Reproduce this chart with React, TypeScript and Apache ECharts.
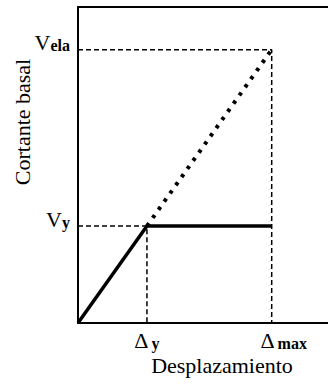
import React, { useEffect, useRef } from "react";
import * as echarts from "echarts";

// Data (arbitrary normalized units)
const X_MAX = 4.12;
const Y_MAX = 3.26;
const DELTA_Y = 1.0;
const DELTA_MAX = 2.81;
const V_Y = 1.0;
const V_ELA = 2.82;

const xTickValues = [DELTA_Y, DELTA_MAX];
const xTickLabels = ["{d|Δ} {s|y}", "{p|}{d|Δ} {s|max}"];
const yTickValues = [V_Y, V_ELA];
const yTickLabels = ["{v|V}{s|y}", "{v|V}{s|ela}"];

const bilinear: [number, number][] = [
  [0, 0],
  [DELTA_Y, V_Y],
  [DELTA_MAX, V_Y],
];
const elastic: [number, number][] = [
  [DELTA_Y, V_Y],
  [DELTA_MAX, V_ELA],
];
const guideEla: [number, number][] = [
  [0, V_ELA],
  [DELTA_MAX, V_ELA],
  [DELTA_MAX, 0],
];
const guideY: [number, number][] = [
  [0, V_Y],
  [DELTA_Y, V_Y],
  [DELTA_Y, 0],
];

const FONT = "Liberation Serif";

export default function App() {
  const ref = useRef<HTMLDivElement>(null);
  useEffect(() => {
    if (!ref.current) return;
    const chart = echarts.init(ref.current, undefined, { renderer: "svg" });
    const rich = {
      d: { fontFamily: FONT, fontSize: 22, color: "#000" },
      v: { fontFamily: FONT, fontSize: 22, color: "#000" },
      s: {
        fontFamily: FONT,
        fontSize: 16,
        fontWeight: "bold",
        color: "#000",
        padding: [6, 0, 0, 0],
      },
      p: { width: 24 },
    };
    const dashed = (data: [number, number][], w: number) => ({
      type: "line",
      data,
      symbol: "none",
      lineStyle: { color: "#000", width: w, type: [5, 3] },
      z: 1,
    });
    chart.setOption({
      animation: false,
      backgroundColor: "#fff",
      grid: {
        left: 78,
        top: 7,
        width: 284,
        height: 316,
        outerBoundsMode: "none",
        containLabel: false,
        show: false,
      },
      xAxis: [
        {
          type: "value",
          min: 0,
          max: X_MAX,
          splitLine: { show: false },
          axisTick: { show: false },
          axisLine: { show: true, lineStyle: { color: "#000", width: 2 } },
          axisLabel: {
            customValues: xTickValues,
            margin: 6,
            fontFamily: FONT,
            formatter: (v: number) => xTickLabels[xTickValues.indexOf(v)] ?? "",
            rich,
          },
        },
        {
          type: "value",
          position: "top",
          min: 0,
          max: X_MAX,
          splitLine: { show: false },
          axisTick: { show: false },
          axisLabel: { show: false },
          axisLine: { show: true, onZero: false, lineStyle: { color: "#000", width: 2 } },
        },
      ],
      yAxis: {
        type: "value",
        min: 0,
        max: Y_MAX,
        splitLine: { show: false },
        axisTick: { show: false },
        axisLine: { show: true, lineStyle: { color: "#000", width: 2 } },
        axisLabel: {
          customValues: yTickValues,
          margin: 8,
          fontFamily: FONT,
          padding: [0, 0, 14, 0],
          formatter: (v: number) => yTickLabels[yTickValues.indexOf(v)] ?? "",
          rich,
        },
      },
      graphic: [
        {
          type: "text",
          x: 22,
          y: 122,
          rotation: Math.PI / 2,
          style: {
            text: "Cortante basal",
            fontFamily: FONT,
            fontSize: 22,
            fill: "#000",
            align: "center",
            verticalAlign: "middle",
          },
        },
        {
          type: "text",
          x: 222,
          y: 365,
          style: {
            text: "Desplazamiento",
            fontFamily: FONT,
            fontSize: 22,
            fill: "#000",
            align: "center",
            verticalAlign: "middle",
          },
        },
      ],
      series: [
        dashed(guideEla, 1.5),
        dashed(guideY, 1.5),
        {
          type: "line",
          data: elastic,
          symbol: "none",
          lineStyle: { color: "#000", width: 4, type: [3.5, 6.5] },
          z: 2,
        },
        {
          type: "line",
          data: bilinear,
          symbol: "none",
          lineStyle: { color: "#000", width: 3.5 },
          z: 3,
        },
      ],
    });
    return () => chart.dispose();
  }, []);
  return (
    <div
      ref={ref}
      style={{
        position: "fixed",
        left: 0,
        top: 0,
        width: 362,
        height: 385,
        overflow: "hidden",
      }}
    />
  );
}
